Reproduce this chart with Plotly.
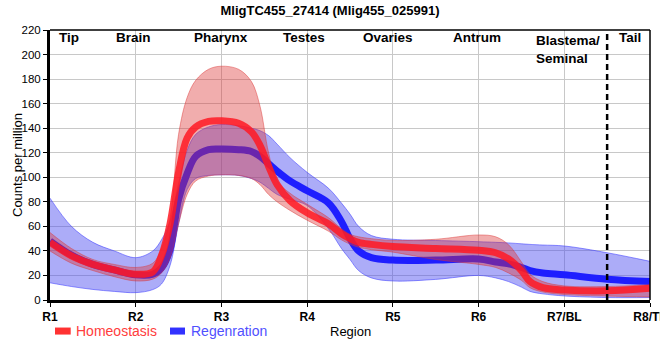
import plotly.graph_objects as go

# ---- data ----
regions = [1, 1.25, 1.5, 1.75, 2, 2.2, 2.3, 2.4, 2.5, 2.6, 2.7, 2.85, 3, 3.2, 3.35, 3.45,
           3.55, 3.65, 3.8, 4, 4.25, 4.4, 4.5, 4.6, 4.75, 5, 5.5, 6, 6.2, 6.35, 6.5, 6.6,
           6.75, 7, 7.5, 8]

homeo_mean = [47, 36, 29, 24.5, 21, 23, 36, 62, 104, 132, 141, 145.5, 146, 144, 137, 126,
              109, 94, 81, 71, 62, 54, 50, 47, 45.3, 43.5, 42, 40.5, 38.5, 33.5, 24, 15,
              10, 8.2, 7.5, 9.5]
homeo_hi = [55, 42, 33, 29, 26.5, 30, 42, 66, 135, 165, 179, 188, 190.5, 188, 178, 158,
            120, 97, 87, 78, 67, 58, 53.5, 51.5, 50, 48.5, 49.5, 53, 51.5, 45, 31, 21,
            15, 11.5, 11, 12.5]
homeo_lo = [40, 30, 24, 19, 15.5, 17, 22, 34, 62, 86, 97, 101, 102, 101.5, 99, 94,
            86, 80, 73, 65, 56, 49, 45.5, 43, 41, 39, 33, 29, 26.5, 22, 16, 10,
            6.5, 4.5, 3.2, 2.5]

regen_mean = [48, 36.5, 29, 24.5, 20.5, 21, 26, 41, 82, 103, 117, 122.5, 123, 122.5, 121, 117,
              111, 105, 97, 89, 79, 64, 50, 40, 34.5, 32.5, 32.5, 33.5, 31, 29.5, 26.5, 24,
              22, 20.5, 17, 15]
regen_hi = [83, 60, 47, 40, 34.5, 40, 49, 64, 95, 122, 135, 141, 143, 142, 140, 138,
            134, 127, 116, 104, 91, 79, 70, 60, 52.5, 49.5, 48.5, 47.5, 47, 46.5, 45.8, 45.3,
            44.8, 44, 38.5, 31.5]
regen_lo = [14, 11, 8.6, 7, 6, 8.5, 13, 28, 62, 90, 99, 101.5, 102, 101.5, 99, 96,
            91, 86, 82, 77, 58, 42, 33, 24, 18, 15.5, 16.8, 20, 18, 15, 10.5, 7,
            5, 3.3, 2, 2]

tick_pos = [1, 2, 3, 4, 5, 6, 7, 8]
tick_labels = ["R1", "R2", "R3", "R4", "R5", "R6", "R7/BL", "R8/TL"]

tissue_names = ["Tip", "Brain", "Pharynx", "Testes", "Ovaries", "Antrum", "Tail"]
tissue_pos = [1.22, 1.97, 2.99, 3.96, 4.94, 5.98, 7.77]

series_names = ["Homeostasis", "Regenration"]
title_text = "MligTC455_27414 (Mlig455_025991)"

FONT = "Liberation Sans, Arial, sans-serif"
BLUE = "rgb(30,30,255)"

fig = go.Figure()

# regeneration band
fig.add_trace(go.Scatter(x=regions, y=regen_lo, mode="lines", line=dict(color="rgba(60,60,255,0.55)", width=1, shape="spline"),
                         showlegend=False, hoverinfo="skip"))
fig.add_trace(go.Scatter(x=regions, y=regen_hi, mode="lines", fill="tonexty", fillcolor="rgba(70,70,240,0.45)",
                         line=dict(color="rgba(60,60,255,0.55)", width=1, shape="spline"), showlegend=False, hoverinfo="skip"))
# regeneration line
fig.add_trace(go.Scatter(x=regions, y=regen_mean, mode="lines", line=dict(color=BLUE, width=7, shape="spline"),
                         name=series_names[1], showlegend=False))
# homeostasis band
fig.add_trace(go.Scatter(x=regions, y=homeo_lo, mode="lines", line=dict(color="rgba(220,50,50,0.45)", width=1, shape="spline"),
                         showlegend=False, hoverinfo="skip"))
fig.add_trace(go.Scatter(x=regions, y=homeo_hi, mode="lines", fill="tonexty", fillcolor="rgba(220,50,50,0.40)",
                         line=dict(color="rgba(220,50,50,0.45)", width=1, shape="spline"), showlegend=False, hoverinfo="skip"))
# homeostasis line
fig.add_trace(go.Scatter(x=regions, y=homeo_mean, mode="lines", line=dict(color="rgba(255,25,35,0.85)", width=7, shape="spline"),
                         name=series_names[0], showlegend=False))

annotations = []
for name, pos in zip(tissue_names, tissue_pos):
    annotations.append(dict(x=pos, y=213.5, xref="x", yref="y", text="<b>%s</b>" % name, showarrow=False,
                            font=dict(family=FONT, size=13.5, color="black"), xanchor="center", yanchor="middle"))
annotations.append(dict(x=6.644, y=219, xref="x", yref="y", text="<b>Blastema/</b><br><b>Seminal</b>", showarrow=False,
                        font=dict(family=FONT, size=13.5, color="black"), xanchor="left", yanchor="top", align="left"))
# axis titles
annotations.append(dict(x=0.5, y=-0.115, xref="paper", yref="paper", text="Region", showarrow=False,
                        font=dict(family=FONT, size=13, color="black"), xanchor="center", yanchor="middle"))
annotations.append(dict(x=-0.055, y=0.5, xref="paper", yref="paper", text="Counts per million", showarrow=False,
                        textangle=-90, font=dict(family=FONT, size=13, color="black"), xanchor="center", yanchor="middle"))
# legend text
annotations.append(dict(x=0.040, y=-0.115, xref="paper", yref="paper", text=series_names[0], showarrow=False,
                        font=dict(family=FONT, size=14, color="rgb(255,60,60)"), xanchor="left", yanchor="middle"))
annotations.append(dict(x=0.2317, y=-0.115, xref="paper", yref="paper", text=series_names[1], showarrow=False,
                        font=dict(family=FONT, size=14, color="rgb(80,80,255)"), xanchor="left", yanchor="middle"))

shapes = [
    dict(type="line", x0=7.5, x1=7.5, y0=0, y1=220, xref="x", yref="y", line=dict(color="black", width=2.5, dash="6px,4px")),
    dict(type="line", x0=0, x1=1, y0=1, y1=1, xref="paper", yref="paper", line=dict(color="black", width=1.5)),
    dict(type="line", x0=1, x1=1, y0=0, y1=1, xref="paper", yref="paper", line=dict(color="black", width=1.5)),
    dict(type="rect", x0=0.0083, x1=0.0345, y0=-0.128, y1=-0.102, xref="paper", yref="paper",
         fillcolor="rgb(255,50,50)", line=dict(width=0)),
    dict(type="rect", x0=0.2, x1=0.225, y0=-0.128, y1=-0.102, xref="paper", yref="paper",
         fillcolor="rgb(50,50,255)", line=dict(width=0)),
]

fig.update_layout(
    width=660, height=360,
    margin=dict(l=50, r=10, t=30, b=60, autoexpand=False),
    paper_bgcolor="white", plot_bgcolor="white",
    showlegend=False,
    title=dict(text="<b>%s</b>" % title_text, x=0.5, xanchor="center", y=0.972, yanchor="middle",
               font=dict(family=FONT, size=13, color="black")),
    xaxis=dict(range=[1, 8], tickvals=tick_pos, ticktext=["<b>%s</b>" % t for t in tick_labels],
               showgrid=True, gridcolor="#c8c8c8", gridwidth=1, zeroline=False, automargin=False,
               showline=True, linecolor="black", linewidth=3, ticks="outside", ticklen=4, tickcolor="black",
               ticklabeloverflow="allow",
               tickfont=dict(family=FONT, size=12, color="black")),
    yaxis=dict(range=[0, 220], tickvals=list(range(0, 221, 20)), automargin=False,
               showgrid=True, gridcolor="#c8c8c8", gridwidth=1, zeroline=False,
               showline=True, linecolor="black", linewidth=3, ticks="outside", ticklen=4, tickcolor="black",
               tickfont=dict(family=FONT, size=11.5, color="black")),
    annotations=annotations,
    shapes=shapes,
)

fig.write_html("out.html", config={"displayModeBar": False},
               post_script="document.body.style.margin='0';document.body.style.overflow='hidden';")
